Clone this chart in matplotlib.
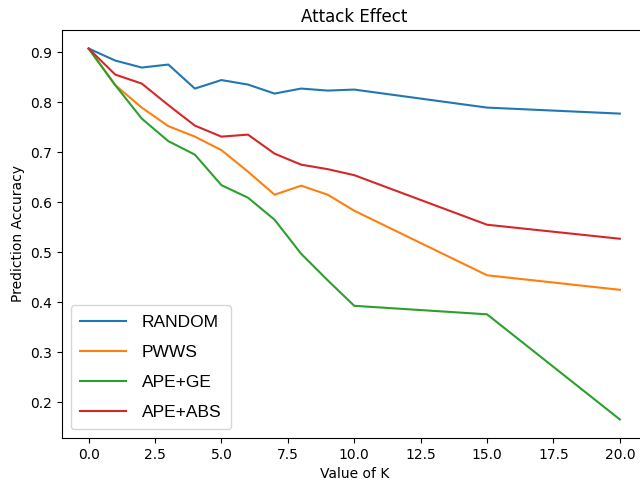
import matplotlib
matplotlib.use('Agg')
import matplotlib.pyplot as plt

k_values = [0, 1, 2, 3, 4, 5, 6, 7, 8, 9, 10, 15, 20]
random_acc = [0.907, 0.883, 0.869, 0.875, 0.827, 0.844, 0.835, 0.817, 0.827, 0.823, 0.825, 0.789, 0.777]
pwws_acc = [0.907, 0.834, 0.789, 0.752, 0.731, 0.704, 0.661, 0.615, 0.633, 0.615, 0.583, 0.454, 0.425]
ape_ge_acc = [0.907, 0.834, 0.767, 0.722, 0.695, 0.634, 0.609, 0.565, 0.497, 0.444, 0.393, 0.376, 0.166]
ape_abs_acc = [0.907, 0.855, 0.837, 0.794, 0.753, 0.731, 0.735, 0.697, 0.675, 0.666, 0.654, 0.555, 0.527]

fig = plt.figure(figsize=(6.4, 4.86), dpi=100)
# the original picture is cropped on the right, so the axes run past the edge
ax = fig.add_axes([0.097, 0.0988, 0.913, 0.8395])

ax.plot(k_values, random_acc, label='RANDOM')
ax.plot(k_values, pwws_acc, label='PWWS')
ax.plot(k_values, ape_ge_acc, label='APE+GE')
ax.plot(k_values, ape_abs_acc, label='APE+ABS')

ax.set_title('Attack Effect')
ax.set_xlabel('Value of K')
ax.set_ylabel('Prediction Accuracy')
ax.legend(loc='lower left',
          prop={'family': ['Liberation Sans Narrow', 'Liberation Sans', 'DejaVu Sans'], 'size': 12.5},
          handlelength=2.64, handletextpad=0.92, labelspacing=0.85, borderpad=0.55)

fig.savefig('out.png', dpi=100)
